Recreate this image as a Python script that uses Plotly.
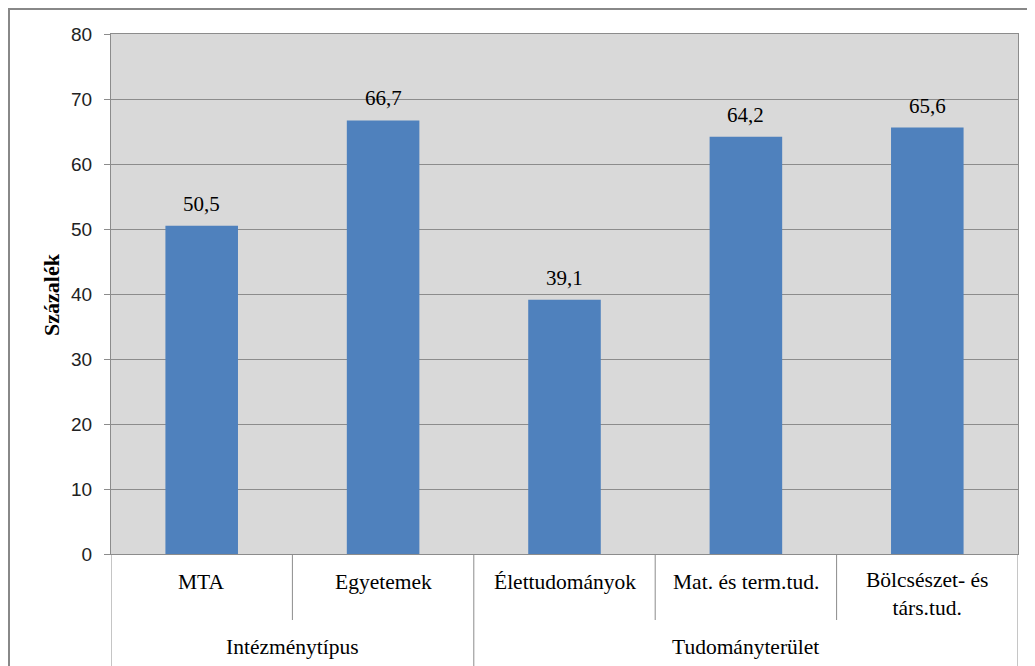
import plotly.graph_objects as go

categories = ["MTA", "Egyetemek", "Élettudományok", "Mat. és term.tud.", "Bölcsészet- és<br>társ.tud."]
values = [50.5, 66.7, 39.1, 64.2, 65.6]
groups = ["Intézménytípus", "Tudományterület"]
group_members = [[0, 1], [2, 3, 4]]
y_ticks = [0, 10, 20, 30, 40, 50, 60, 70, 80]
y_title = "Százalék"

# page offset of the figure (body margin)
OFF = 8
W, H = 1035 - OFF, 666 - OFF
# plot area in page pixels: x 111..1018, y 34..554
L, T = 111 - OFF, 34 - OFF
R = W - (1018 - OFF)
B = H - (554 - OFF)
pw, ph = W - L - R, H - T - B

def px_x(p):
    return (p - OFF - L) / pw

def px_y(p):
    return (H - B - (p - OFF)) / ph

serif = "'Liberation Serif', 'Times New Roman', 'DejaVu Serif', serif"
sans = "'Liberation Sans', Arial, sans-serif"
grid = "#8c8c8c"

xpos = list(range(len(categories)))

fig = go.Figure()
fig.add_trace(go.Bar(
    x=xpos, y=values, marker=dict(color="#4f81bd", line=dict(width=0)),
    width=0.4, hoverinfo="skip", showlegend=False,
))

annotations = []
for i, v in enumerate(values):
    annotations.append(dict(
        x=xpos[i], y=v, xref="x", yref="y", text=f"{v:.1f}".replace(".", ","),
        showarrow=False, yshift=22, font=dict(family=serif, size=21, color="#000"),
        xanchor="center", yanchor="middle",
    ))
for i, c in enumerate(categories):
    two = "<br>" in c
    annotations.append(dict(
        x=xpos[i], y=px_y(594 if two else 582), xref="x", yref="paper", text=c,
        showarrow=False, font=dict(family=serif, size=21.5, color="#000"),
        xanchor="center", yanchor="middle",
    ))
for g, mem in zip(groups, group_members):
    annotations.append(dict(
        x=sum(mem) / len(mem), y=px_y(647), xref="x", yref="paper", text=g,
        showarrow=False, font=dict(family=serif, size=21.5, color="#000"),
        xanchor="center", yanchor="middle",
    ))
annotations.append(dict(
    x=px_x(51), y=0.5, xref="paper", yref="paper", text=f"<b>{y_title}</b>",
    textangle=-90, showarrow=False, font=dict(family=serif, size=22, color="#000"),
    xanchor="center", yanchor="middle",
))

shapes = []
for d in [0.5, 2.5, 3.5]:
    shapes.append(dict(type="line", xref="x", yref="paper", x0=d, x1=d,
                       y0=0, y1=px_y(620), line=dict(color=grid, width=1)))
for d in [-0.5, 1.5, 4.5]:
    shapes.append(dict(type="line", xref="x", yref="paper", x0=d, x1=d,
                       y0=0, y1=px_y(700), line=dict(color=grid, width=1)))
shapes.append(dict(type="rect", xref="paper", yref="paper",
                   x0=px_x(9), x1=px_x(1060), y0=px_y(9), y1=px_y(720),
                   line=dict(color="#888888", width=2), fillcolor="rgba(0,0,0,0)", layer="above"))

fig.update_layout(
    width=W, height=H,
    margin=dict(l=L, r=R, t=T, b=B, pad=0),
    paper_bgcolor="white", plot_bgcolor="#d9d9d9",
    annotations=annotations, shapes=shapes,
    xaxis=dict(range=[-0.5, 4.5], showticklabels=False, showgrid=False, zeroline=False,
               showline=True, linecolor=grid, linewidth=1, mirror=True, ticks=""),
    yaxis=dict(range=[0, 80], tickvals=y_ticks, showgrid=True, gridcolor=grid, gridwidth=1,
               zeroline=False, showline=True, linecolor=grid, linewidth=1, mirror=True,
               ticks="outside", ticklen=6, tickcolor=grid, ticklabelstandoff=8,
               tickfont=dict(family=sans, size=19, color="#222")),
)

fig.write_html("out.html")
